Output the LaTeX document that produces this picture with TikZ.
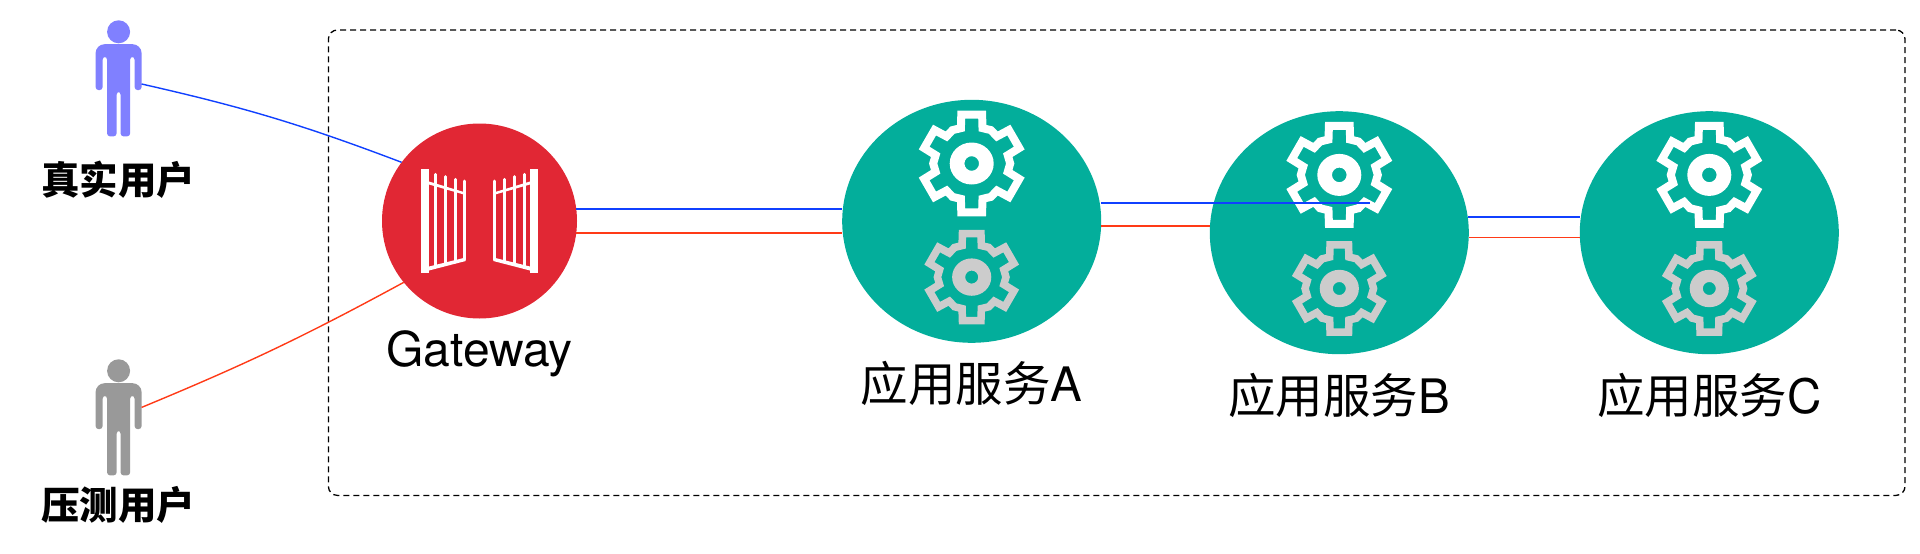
\documentclass[tikz,border=0pt]{standalone}
\usepackage{fontspec}
\setmainfont{TeX Gyre Heros}
\newfontfamily\cjk{Noto Sans CJK SC}
\usepackage{xcolor}
\usepackage{tikz}
\usetikzlibrary{positioning}
\usetikzlibrary{shapes.geometric}
\definecolor{gwred}{HTML}{E12734}
\definecolor{svcgreen}{HTML}{03AE9B}
\definecolor{realblue}{HTML}{8080FF}
\definecolor{loadgrey}{HTML}{999999}
\definecolor{geargrey}{HTML}{CCCCCC}
\definecolor{lineblue}{HTML}{1040FF}
\definecolor{linered}{HTML}{FF3A17}

\tikzset{
  pics/person/.style={code={
    \path[pic actions] (0,0) circle [radius=11.5];
    \path[pic actions, rounded corners=3pt] (-2,104.6) -- (-11.5,104.6) -- (-11.5,25) -- (-16,25) -- (-16,58.3) -- (-23,58.3)
      [rounded corners=9pt] -- (-23,12.4) -- (23,12.4)
      [rounded corners=3pt] -- (23,58.3) -- (16,58.3) -- (16,25) -- (11.5,25) -- (11.5,104.6) -- (2,104.6) -- (2,60) -- (-2,60) -- cycle;
  }},
  pics/gear/.style={code={
    \path[pic actions, fill=none, line join=miter] (0:38.5)
      \foreach \a in {30,90,...,330} { -- (\a-17:37) -- (\a-12:50) -- (\a+12:50) -- (\a+17:37) -- (\a+30:38.5) } -- cycle;
    \path[pic actions, draw=none, even odd rule] (0,0) circle [x radius=22, y radius=21] (0,0) circle [radius=7.3];
  }},
  pics/gate/.style={code={
    \foreach \s in {1,-1} {
      \begin{scope}[xscale=\s]
        \fill[white] (-58.8,-51.7) rectangle (-50.5,51.7);
        \fill[white] (-50.5,-39.5) -- (-14,-28.5) -- (-14,-26) -- (-50.5,-36.5) -- cycle;
        \fill[white] (-50.5,45.5) -- (-13.8,36.5) -- (-13.8,40) -- (-50.5,49.5) -- cycle;
        \draw[white, line width=3pt, line cap=round] (-44.5,-46.7) -- (-44.5,46);
        \draw[white, line width=3pt, line cap=round] (-34.5,-44.3) -- (-34.5,43.5);
        \draw[white, line width=3pt, line cap=round] (-24.5,-41.7) -- (-24.5,41);
        \draw[white, line width=3pt, line cap=round] (-15.2,-40) -- (-15.2,38.5);
      \end{scope}
    }
  }},
  svc/.style={ellipse, fill=svcgreen, inner sep=0pt, outer sep=0pt, minimum width=259pt, minimum height=243pt},
  gwnode/.style={circle, fill=gwred, inner sep=0pt, outer sep=0pt, minimum size=195pt},
  gwlabelstyle/.style={inner sep=0pt, font=\fontsize{48pt}{50pt}\selectfont},
  svclabel/.style={inner sep=0pt, font=\fontsize{47.5pt}{50pt}\selectfont},
  userlabel/.style={inner sep=0pt, font=\fontsize{38.5pt}{40pt}\selectfont\cjk\bfseries},
  blueline/.style={draw=lineblue, line width=1.4pt},
  redline/.style={draw=linered, line width=1.4pt}
}

\begin{document}
\begin{tikzpicture}[x=1pt, y=-1pt]
\useasboundingbox (0,0) rectangle (1920,554);

% Box:
\node[draw, dash pattern=on 6pt off 4pt, line width=1.3pt, rounded corners=9pt, minimum width=1576.6pt, minimum height=465.4pt] (zone) at (1116.7,262.7) {};

% Main nodes:
\node[gwnode] (gw) at (479.5,221) {};
\node[svc] (svca) at (971.7,221.3) {};
\node[svc] (svcb) [right = 108.6pt of svca, yshift=-11.4pt] {};
\node[svc] (svcc) [right = 111pt of svcb] {};

% Users:
\pic[fill=realblue] (real) at (118.6,31.8) {person};
\pic[fill=loadgrey] (load) at (118.6,370.8) {person};
\coordinate (realend) at (141.6,84);
\coordinate (loadend) at (141.6,407.4);
\node[userlabel] (reallabel) at (118,180) {真实用户};
\node[userlabel] (loadlabel) at (118,505) {压测用户};

% Icons:
\pic at (gw.center) {gate};
\foreach \n in {svca,svcb,svcc} {
  \pic[draw=white, fill=white, line width=8pt] at ([yshift=57.8pt]\n.center) {gear};
  \pic[draw=geargrey, fill=geargrey, line width=7.5pt, scale=.89] at ([yshift=-55.8pt]\n.center) {gear};
}

% Lower labels:
\node[gwlabelstyle] (gwlabel) [below = 12pt of gw] {Gateway};
\node[svclabel] (svcalabel) [below = 18.5pt of svca] {{\cjk 应用服务}A};
\node[svclabel] (svcblabel) [below = 18.5pt of svcb] {{\cjk 应用服务}B};
\node[svclabel] (svcclabel) [below = 18.5pt of svcc] {{\cjk 应用服务}C};

% Lines:
\coordinate (bluestop) at (1370,203);
\draw[blueline] (realend) to[bend left=4] (gw.143);
\draw[redline]  (loadend) to[bend right=3] (gw.219);
\draw[blueline] (gw.7)  -- (gw.7 -| svca.west);
\draw[redline]  (gw.-7) -- (gw.-7 -| svca.west);
\draw[blueline, line width=1.8pt] (svca.east |- bluestop) -- (bluestop);
\draw[redline]  (svca.-2.4) -- (svca.-2.4 -| svcb.west);
\draw[blueline] (svcb.7.7) -- (svcb.7.7 -| svcc.west);
\draw[redline]  (svcb.-2.8) -- (svcb.-2.8 -| svcc.west);
\end{tikzpicture}
\end{document}
